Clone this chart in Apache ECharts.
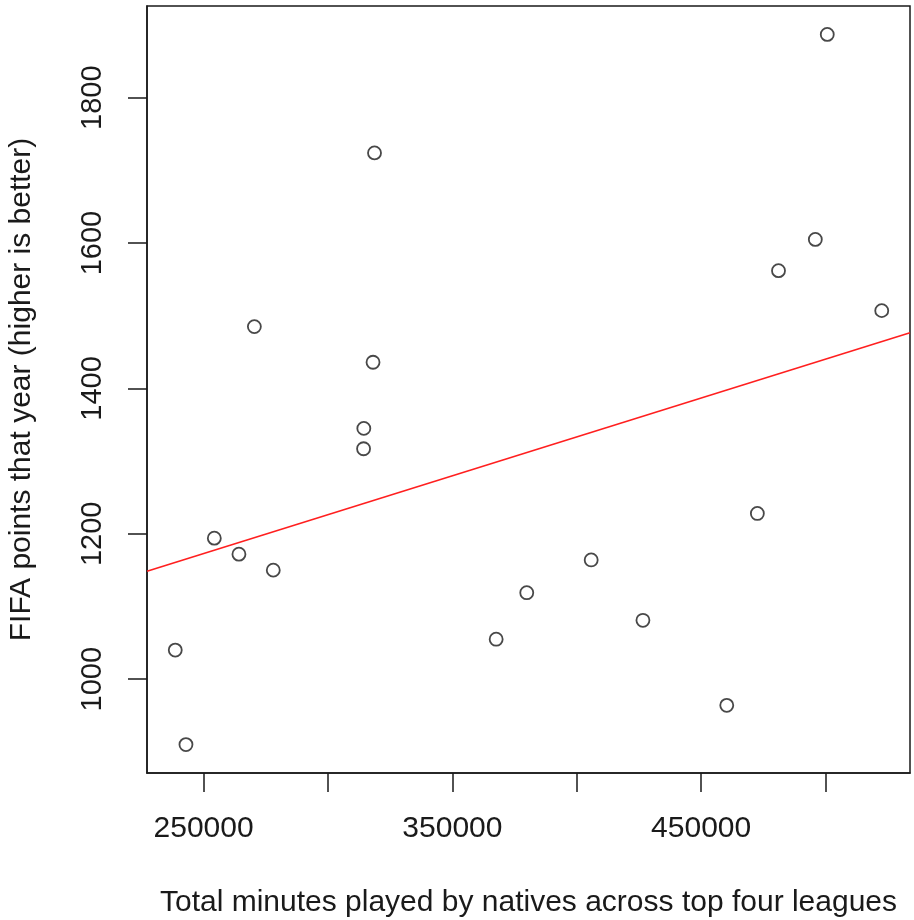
<!DOCTYPE html>
<html>
<head>
<meta charset="utf-8">
<script src="https://cdn.jsdelivr.net/npm/echarts@6/dist/echarts.min.js"></script>
<style>
html,body{margin:0;padding:0;background:#fff;}
#chart{width:914px;height:920px;}
</style>
</head>
<body>
<div id="chart"></div>
<script>
// Data
const minutesPlayed = [238600, 242900, 254300, 264200, 270400, 278000, 314400, 314300, 318100, 318700,
                       367600, 379900, 405800, 426600, 460300, 472600, 481100, 495900, 500700, 522600];
const fifaPoints   = [1040, 910, 1194, 1172, 1485, 1150, 1345, 1317, 1436, 1724,
                       1055, 1119, 1164, 1081, 964, 1228, 1562, 1605, 1887, 1507];
const xTicks = [250000, 300000, 350000, 400000, 450000, 500000];
const xTickLabels = [250000, 350000, 450000];
const yTicks = [1000, 1200, 1400, 1600, 1800];
const xTitle = 'Total minutes played by natives across top four leagues';
const yTitle = 'FIFA points that year (higher is better)';

// R-style axis range: data range extended by 4% on each side
function rRange(arr) {
  const lo = Math.min(...arr), hi = Math.max(...arr);
  const pad = (hi - lo) * 0.04;
  return [lo - pad, hi + pad];
}
const xr = rRange(minutesPlayed);
const yr = rRange(fifaPoints);

// least-squares fit
const n = minutesPlayed.length;
const mx = minutesPlayed.reduce((a, b) => a + b, 0) / n;
const my = fifaPoints.reduce((a, b) => a + b, 0) / n;
let sxy = 0, sxx = 0;
for (let i = 0; i < n; i++) {
  sxy += (minutesPlayed[i] - mx) * (fifaPoints[i] - my);
  sxx += (minutesPlayed[i] - mx) ** 2;
}
const slope = sxy / sxx;
const intercept = my - slope * mx;
const fitLine = [[xr[0], intercept + slope * xr[0]], [xr[1], intercept + slope * xr[1]]];

const FONT = '"Liberation Sans", Arial, Helvetica, sans-serif';
const INK = '#1a1a1a';

const chart = echarts.init(document.getElementById('chart'), null, {renderer: 'canvas'});
chart.setOption({
  animation: false,
  backgroundColor: '#fff',
  grid: {left: 147, right: 4, top: 6, bottom: 147, containLabel: false, outerBoundsMode: 'none',
         show: true, borderColor: INK, borderWidth: 1.5, backgroundColor: 'transparent'},
  xAxis: {
    type: 'value', min: xr[0], max: xr[1],
    axisLine: {show: true, onZero: false, lineStyle: {color: INK, width: 1.5}},
    axisTick: {show: true, inside: false, length: 19, lineStyle: {color: INK, width: 1.5}, customValues: xTicks},
    axisLabel: {show: true, margin: 41, color: INK, fontFamily: FONT, fontSize: 30, customValues: xTickLabels,
                formatter: v => String(Math.round(v))},
    splitLine: {show: false},
    name: xTitle, nameLocation: 'middle', nameGap: 115,
    nameTextStyle: {color: INK, fontFamily: FONT, fontSize: 30}
  },
  yAxis: {
    type: 'value', min: yr[0], max: yr[1],
    axisLine: {show: true, onZero: false, lineStyle: {color: INK, width: 1.5}},
    axisTick: {show: true, inside: false, length: 19, lineStyle: {color: INK, width: 1.5}, customValues: yTicks},
    axisLabel: {show: true, rotate: 90, margin: 40, color: INK, fontFamily: FONT, fontSize: 29, customValues: yTicks,
                formatter: v => String(Math.round(v))},
    splitLine: {show: false},
    name: yTitle, nameLocation: 'middle', nameGap: 110, nameRotate: 90,
    nameTextStyle: {color: INK, fontFamily: FONT, fontSize: 30}
  },
  series: [
    {
      type: 'line', data: fitLine, symbol: 'none', silent: true, clip: true,
      lineStyle: {color: '#ff1f1f', width: 1.6}, z: 1
    },
    {
      type: 'scatter', data: minutesPlayed.map((x, i) => [x, fifaPoints[i]]),
      symbol: 'circle', symbolSize: 13,
      itemStyle: {color: 'rgba(255,255,255,0)', borderColor: INK, borderWidth: 1.8}, z: 2
    }
  ]
});
</script>
</body>
</html>
